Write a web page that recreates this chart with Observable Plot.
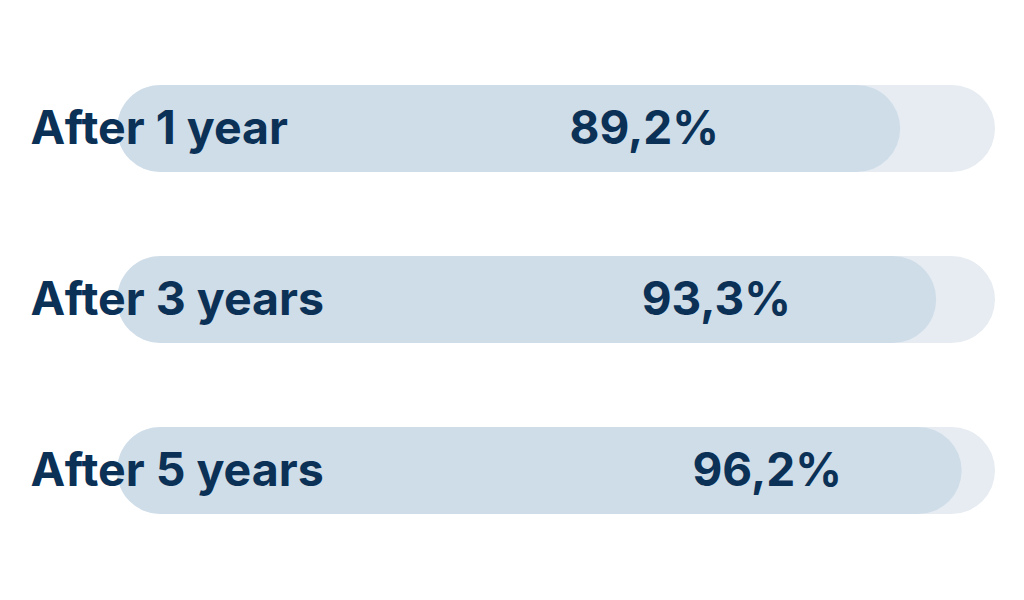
<!DOCTYPE html>
<html>
<head>
<meta charset="utf-8">
<script src="https://cdn.jsdelivr.net/npm/d3@7"></script>
<script src="https://cdn.jsdelivr.net/npm/@observablehq/plot@0.6"></script>
<style>
  html, body { margin: 0; padding: 0; background: #ffffff; }
  #chart svg { display: block; }
</style>
</head>
<body>
<div id="chart"></div>
<script>
const categories = ["After 1 year", "After 3 years", "After 5 years"];
const values = [89.2, 93.3, 96.2];
const valueLabels = ["89,2%", "93,3%", "96,2%"];
const trackMax = 100;

const rows = categories.map((c, i) => ({category: c, value: values[i], label: valueLabels[i], max: trackMax}));

const ink = "#0b3156";
const font = "Inter, Lato, 'DejaVu Sans', sans-serif";

const chart = Plot.plot({
  width: 1024,
  height: 600,
  margin: 0,
  x: {domain: [0, 100], range: [117, 995], axis: null},
  y: {domain: categories, range: [84.5, 515], paddingInner: 0.493, paddingOuter: 0, axis: null},
  style: {background: "#ffffff", fontFamily: font},
  marks: [
    Plot.barX(rows, {y: "category", x1: 0, x2: "max", fill: "#e6ecf2", rx: 43.5}),
    Plot.barX(rows, {y: "category", x1: 0, x2: "value", fill: "#cfdde9", rx: 43.5}),
    Plot.text(rows, {y: "category", text: "category", frameAnchor: "left", textAnchor: "start", dx: 30, fill: ink, fontSize: 46.5, fontWeight: "bold", fontFamily: font}),
    Plot.text(rows, {y: "category", x: d => 2 * d.value - 118.4, text: "label", textAnchor: "middle", fill: ink, fontSize: 46, fontWeight: "bold", fontFamily: font})
  ]
});
document.getElementById("chart").appendChild(chart);
</script>
</body>
</html>
